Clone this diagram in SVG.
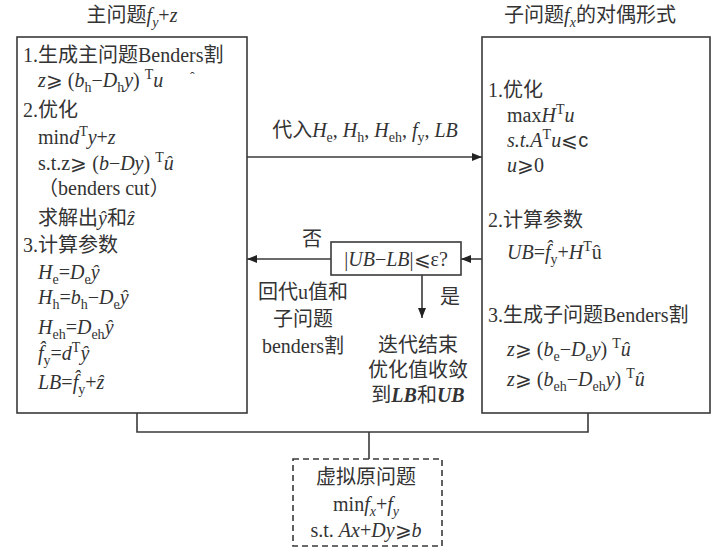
<svg xmlns="http://www.w3.org/2000/svg" width="722" height="554" viewBox="0 0 722 554">
<defs>
<style>
text{font-family:"Liberation Serif","DejaVu Serif","Noto Sans CJK SC",serif;font-size:20px;fill:#333}
.i{font-style:italic}
.b{font-weight:bold;font-style:italic}
.sb{font-size:14px;baseline-shift:-5px}
.sp{font-size:14px;baseline-shift:8px}
.m{text-anchor:middle}
.box{fill:#fff;stroke:#3a3a3a;stroke-width:1.6}
.dash{fill:#fff;stroke:#3a3a3a;stroke-width:1.6;stroke-dasharray:6 4}
.ln{fill:none;stroke:#3a3a3a;stroke-width:1.6}
</style>
<marker id="ah" viewBox="0 0 10 8" refX="10" refY="4" markerWidth="10" markerHeight="8" markerUnits="userSpaceOnUse" orient="auto">
<path d="M0,0 L10,4 L0,8 Z" fill="#222"/>
</marker>
</defs>
<rect width="722" height="554" fill="#fff"/>

<g id="connectors">
<line class="ln" x1="247" y1="157" x2="482" y2="157" marker-end="url(#ah)"/>
<line class="ln" x1="482" y1="259" x2="461" y2="259" marker-end="url(#ah)"/>
<line class="ln" x1="331" y1="259" x2="247" y2="259" marker-end="url(#ah)"/>
<line class="ln" x1="422" y1="275" x2="422" y2="318" marker-end="url(#ah)"/>
<polyline class="ln" points="137,413 137,432 588,432 588,413"/>
<line class="ln" x1="369" y1="432" x2="369" y2="459"/>
<text class="m" x="365" y="137">代入<tspan class="i">H</tspan><tspan class="sb">e</tspan>, <tspan class="i">H</tspan><tspan class="sb">h</tspan>, <tspan class="i">H</tspan><tspan class="sb">eh</tspan>, <tspan class="i">f</tspan><tspan class="sb">y</tspan>, <tspan class="i">LB</tspan></text>
<text class="m" x="312" y="246">否</text>
<text class="m" x="450" y="304">是</text>
<text class="m" x="303" y="299">回代u值和</text>
<text class="m" x="303" y="326">子问题</text>
<text class="m" x="303" y="353">benders割</text>
<text class="m" x="418" y="352">迭代结束</text>
<text class="m" x="418" y="377">优化值收敛</text>
<text class="m" x="418" y="402">到<tspan class="b">LB</tspan>和<tspan class="b">UB</tspan></text>
</g>

<g id="master">
<text class="m" x="132" y="22">主问题<tspan class="i">f</tspan><tspan class="sb i">y</tspan>+<tspan class="i">z</tspan></text>
<rect class="box" x="17" y="37" width="230" height="376"/>
<text x="23" y="62">1.生成主问题Benders割</text>
<text x="38" y="87"><tspan class="i">z</tspan>⩾ (<tspan class="i">b</tspan><tspan class="sb">h</tspan>−<tspan class="i">D</tspan><tspan class="sb">h</tspan><tspan class="i">y</tspan>) <tspan class="sp">T</tspan><tspan class="i">u</tspan></text>
<text x="190" y="82" style="font-size:14px">ˆ</text>
<text x="23" y="117">2.优化</text>
<text x="38" y="144">min<tspan class="i">d</tspan><tspan class="sp">T</tspan><tspan class="i">y</tspan>+<tspan class="i">z</tspan></text>
<text x="38" y="170">s.t.z⩾ (<tspan class="i">b</tspan>−<tspan class="i">Dy</tspan>) <tspan class="sp">T</tspan><tspan class="i">û</tspan></text>
<text x="38" y="195">（benders cut）</text>
<text x="38" y="225">求解出<tspan class="i">ŷ</tspan>和<tspan class="i">ẑ</tspan></text>
<text x="23" y="252">3.计算参数</text>
<text x="38" y="279"><tspan class="i">H</tspan><tspan class="sb">e</tspan>=<tspan class="i">D</tspan><tspan class="sb">e</tspan><tspan class="i">ŷ</tspan></text>
<text x="38" y="304"><tspan class="i">H</tspan><tspan class="sb">h</tspan>=<tspan class="i">b</tspan><tspan class="sb">h</tspan>−<tspan class="i">D</tspan><tspan class="sb">e</tspan><tspan class="i">ŷ</tspan></text>
<text x="38" y="334"><tspan class="i">H</tspan><tspan class="sb">eh</tspan>=<tspan class="i">D</tspan><tspan class="sb">eh</tspan><tspan class="i">ŷ</tspan></text>
<text x="38" y="360"><tspan class="i">f̂</tspan><tspan class="sb">y</tspan>=<tspan class="i">d</tspan><tspan class="sp">T</tspan><tspan class="i">ŷ</tspan></text>
<text x="38" y="389"><tspan class="i">LB</tspan>=<tspan class="i">f̂</tspan><tspan class="sb">y</tspan>+<tspan class="i">ẑ</tspan></text>
</g>

<g id="sub">
<text class="m" x="590" y="22">子问题<tspan class="i">f</tspan><tspan class="sb i">x</tspan>的对偶形式</text>
<rect class="box" x="482" y="37" width="228" height="376"/>
<text x="488" y="97">1.优化</text>
<text x="507" y="122">max<tspan class="i">H</tspan><tspan class="sp">T</tspan><tspan class="i">u</tspan></text>
<text x="507" y="147"><tspan class="i">s.t.A</tspan><tspan class="sp">T</tspan><tspan class="i">u</tspan>⩽<tspan style="font-family:'Liberation Sans',sans-serif">c</tspan></text>
<text x="507" y="172"><tspan class="i">u</tspan>⩾0</text>
<text x="488" y="227">2.计算参数</text>
<text x="507" y="259"><tspan class="i">UB</tspan>=<tspan class="i">f̂</tspan><tspan class="sb">y</tspan>+<tspan class="i">H</tspan><tspan class="sp">T</tspan>û</text>
<text x="488" y="322">3.生成子问题Benders割</text>
<text x="507" y="356"><tspan class="i">z</tspan>⩾ (<tspan class="i">b</tspan><tspan class="sb">e</tspan>−<tspan class="i">D</tspan><tspan class="sb">e</tspan><tspan class="i">y</tspan>) <tspan class="sp">T</tspan><tspan class="i">û</tspan></text>
<text x="507" y="386"><tspan class="i">z</tspan>⩾ (<tspan class="i">b</tspan><tspan class="sb">eh</tspan>−<tspan class="i">D</tspan><tspan class="sb">eh</tspan><tspan class="i">y</tspan>) <tspan class="sp">T</tspan><tspan class="i">û</tspan></text>
</g>

<g id="decision">
<rect class="box" x="331" y="242" width="130" height="33"/>
<text class="m" x="396" y="266">|<tspan class="i">UB</tspan>−<tspan class="i">LB</tspan>|⩽ε?</text>
</g>

<g id="original">
<rect class="dash" x="293" y="459" width="149" height="87"/>
<text class="m" x="366" y="484">虚拟原问题</text>
<text class="m" x="366" y="511">min<tspan class="i">f</tspan><tspan class="sb i">x</tspan>+<tspan class="i">f</tspan><tspan class="sb i">y</tspan></text>
<text class="m" x="366" y="537">s.t. <tspan class="i">Ax</tspan>+<tspan class="i">Dy</tspan>⩾<tspan class="i">b</tspan></text>
</g>
</svg>
